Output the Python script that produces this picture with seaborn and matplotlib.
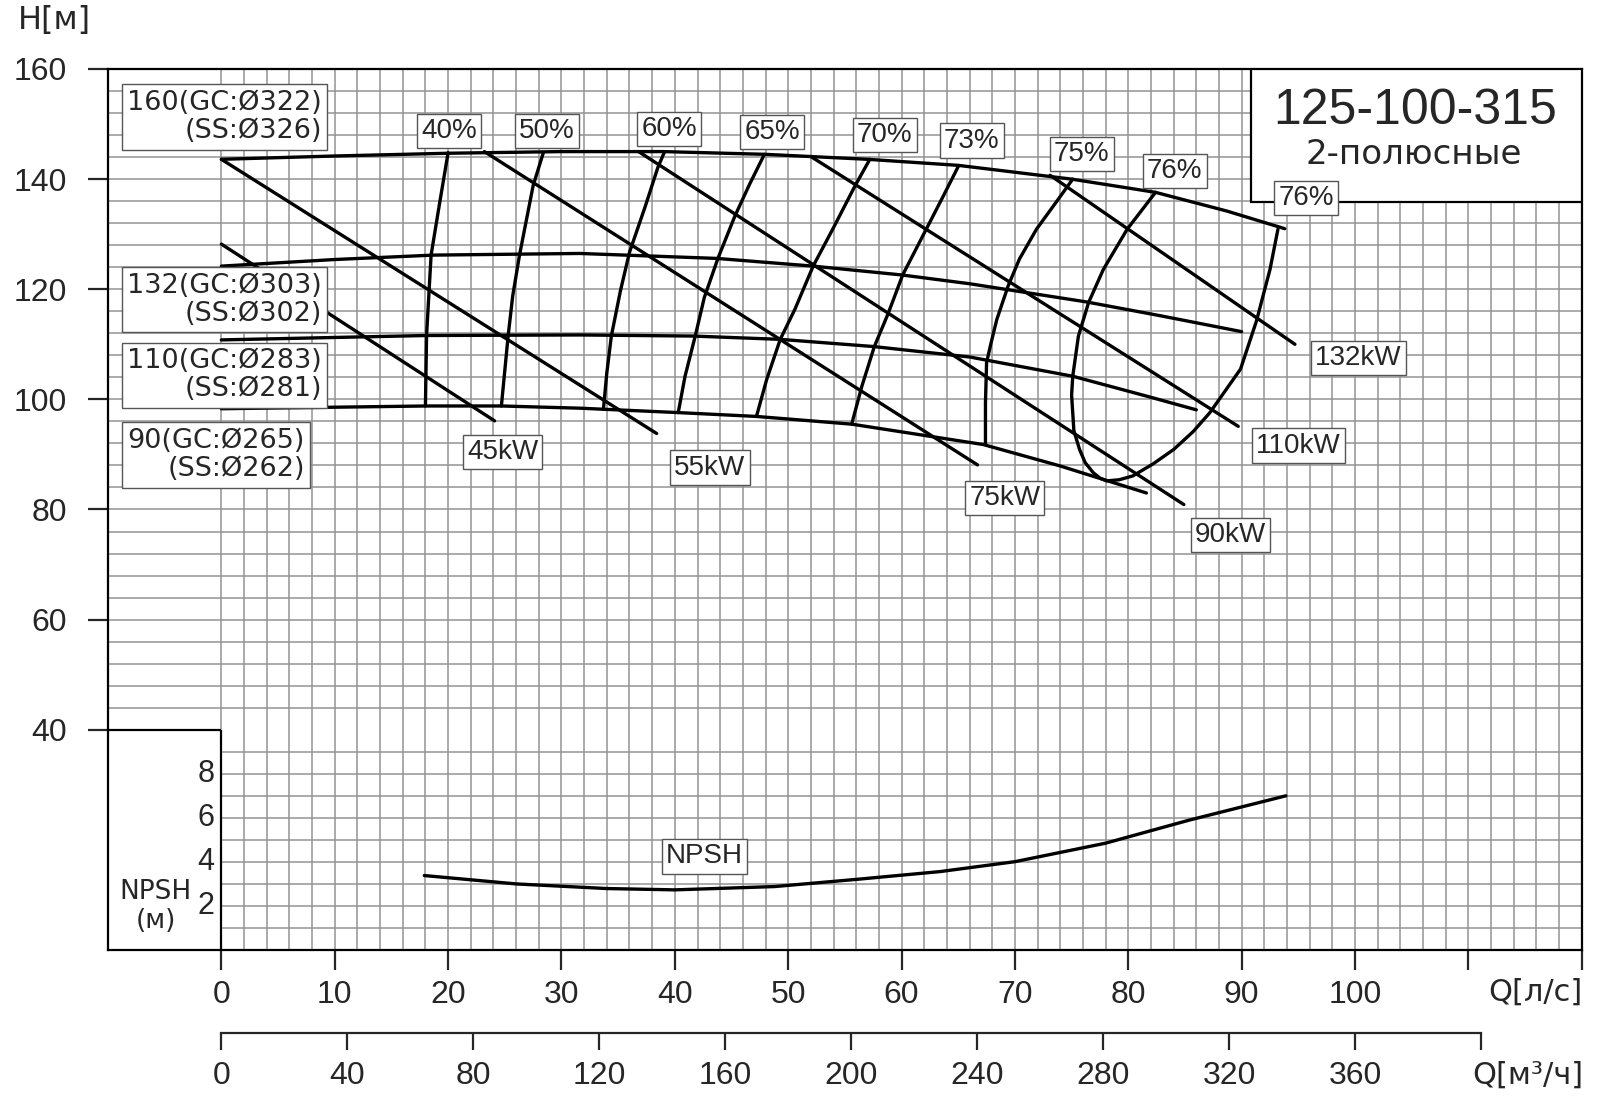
import numpy as np
import matplotlib
matplotlib.use("Agg")
import matplotlib.pyplot as plt
import seaborn as sns
from matplotlib.patches import Rectangle

# head curves, Q [l/s] -> H [m]
q_322 = [0, 10, 20, 30, 39, 48, 57, 65, 75, 82.4, 88.7, 93.8]
h_322 = [143.6, 144.2, 144.7, 145.0, 145.0, 144.5, 143.6, 142.5, 140.0, 137.6, 134.2, 131.0]
q_303 = [0, 10, 18.7, 31.6, 43.7, 52.2, 60, 66, 76.3, 82.8, 90]
h_303 = [124.2, 125.4, 126.2, 126.5, 125.6, 124.2, 122.6, 121.0, 117.7, 115.2, 112.3]
q_283 = [0, 18.1, 31.6, 41.6, 49.3, 57.5, 66, 75.1, 81.6, 86]
h_283 = [110.8, 111.6, 111.7, 111.5, 110.9, 109.6, 107.7, 104.2, 100.6, 98.1]
q_265 = [0, 18.1, 24.7, 31.6, 40.3, 47.2, 55.6, 67.2, 74, 81.6]
h_265 = [98.3, 98.8, 98.8, 98.4, 97.6, 96.9, 95.5, 91.8, 87.9, 83.0]

# efficiency curves
q_e40 = [20, 19.2, 18.5, 18.1, 18.0]
h_e40 = [144.8, 135, 126.2, 111.6, 98.8]
q_e50 = [28.4, 27.5, 26.3, 25.7, 25.3, 24.7]
h_e50 = [144.8, 138.8, 126.2, 118.8, 111.6, 98.8]
q_e60 = [39.1, 38.5, 37.4, 36, 35.2, 34.4, 34, 33.7]
h_e60 = [145, 142.1, 135.1, 126.7, 119.7, 111.5, 104.8, 98.2]
q_e65 = [47.9, 46.6, 45.3, 43.8, 42.6, 41.8, 40.9, 40.3]
h_e65 = [144.5, 139.1, 133.3, 125.6, 118.5, 111.5, 104.2, 97.6]
q_e70 = [57.2, 55.9, 54, 52.2, 50.6, 49.3, 48.1, 47.2]
h_e70 = [143.6, 138.8, 131.2, 124.2, 116.4, 110.9, 103.6, 96.9]
q_e73 = [65, 63.7, 62.1, 60.1, 58.8, 57.6, 56.5, 55.6]
h_e73 = [142.3, 137, 130.6, 122.6, 115.5, 109.6, 102.4, 95.5]
q_e75 = [75.1, 73.7, 71.9, 70.4, 69.4, 68.4, 67.9, 67.5, 67.4, 67.4]
h_e75 = [140, 136, 130.9, 125.5, 120.6, 114.5, 110.3, 106.7, 99.4, 91.8]
q_e76 = [82.4, 79.9, 77.8, 76.5, 75.6, 75.1, 75.0, 75.2, 75.7, 76.2, 76.9, 77.5, 78.1,
         79.2, 80.4, 82.2, 84, 85.7, 87.2, 89.9, 91.3, 92.5, 93.2]
h_e76 = [137.6, 130.9, 123.6, 117.6, 111.5, 104.2, 100.8, 94.3, 90.9, 88.5, 86.7, 85.7, 85.2,
         85.4, 86.1, 88.3, 90.9, 94.1, 97.6, 105.5, 114.2, 123.6, 130.9]

# motor power lines
kw_names = ["45kW", "55kW", "75kW", "90kW", "110kW", "132kW"]
kw_q0 = [0, 0, 23.2, 36.8, 52, 73.1]
kw_h0 = [128.2, 143.6, 145, 145, 144.1, 140.7]
kw_q1 = [24.1, 38.4, 66.7, 84.9, 89.7, 94.7]
kw_h1 = [96.1, 93.8, 88.1, 80.9, 95.1, 110]
kw_lab_q = [24.8, 43.1, 69.1, 89, 95, 100.3]
kw_lab_h = [90.4, 87.6, 82.1, 75.4, 91.6, 107.5]

pct_names = ["40%", "50%", "60%", "65%", "70%", "73%", "75%", "76%", "76%"]
pct_q = [20.1, 28.7, 39.5, 48.6, 58.5, 66.2, 75.9, 84.1, 95.7]
pct_h = [148.7, 148.8, 149.1, 148.6, 148.0, 147.0, 144.6, 141.5, 136.6]

dia_names = ["160(GC:Ø322)\n(SS:Ø326)", "132(GC:Ø303)\n(SS:Ø302)",
             "110(GC:Ø283)\n(SS:Ø281)", "90(GC:Ø265)\n(SS:Ø262)"]
dia_h = [151.3, 118.1, 104.4, 89.9]

# NPSH [m]
q_npsh = [17.9, 26, 34, 40, 48.8, 56.1, 63.4, 70, 78, 85.4, 93.9]
v_npsh = [3.38, 3.0, 2.79, 2.73, 2.88, 3.21, 3.56, 4.01, 4.85, 5.9, 7.0]
npsh_ticks = [2, 4, 6, 8]
npsh_scale = 4  # 1 m NPSH = 4 m of the head scale

sns.set_style("ticks")
plt.rcParams["font.family"] = ["Liberation Sans", "DejaVu Sans"]

fig = plt.figure(figsize=(16, 11.04), dpi=100)
ax = fig.add_axes([0.0675, 0.1395, 0.9211, 0.798])
ax.set_xlim(-10, 120)
ax.set_ylim(0, 160)

gc = "#939393"
ax.vlines(np.arange(0, 121, 2), 0, 160, color=gc, lw=1.1, zorder=0.5)
ax.hlines(np.arange(44, 161, 4), -10, 120, color=gc, lw=1.1, zorder=0.5)
ax.hlines(np.arange(4, 40, 4), 0, 120, color=gc, lw=1.1, zorder=0.5)
ax.hlines(40, -10, 0, color="black", lw=1.6, zorder=3)
ax.vlines(0, 0, 40, color="black", lw=1.6, zorder=3)

lw = 2.4
curves = [(q_322, h_322), (q_303, h_303), (q_283, h_283), (q_265, h_265),
          (q_e40, h_e40), (q_e50, h_e50), (q_e60, h_e60), (q_e65, h_e65),
          (q_e70, h_e70), (q_e73, h_e73), (q_e75, h_e75), (q_e76, h_e76)]
for qq, hh in curves:
    sns.lineplot(x=qq, y=hh, ax=ax, color="black", linewidth=lw, sort=False,
                 estimator=None, legend=False, zorder=2)

for i in range(len(kw_names)):
    sns.lineplot(x=[kw_q0[i], kw_q1[i]], y=[kw_h0[i], kw_h1[i]], ax=ax, color="black",
                 linewidth=lw, sort=False, estimator=None, legend=False, zorder=2)

sns.lineplot(x=q_npsh, y=[v * npsh_scale for v in v_npsh], ax=ax, color="black",
             linewidth=lw, sort=False, estimator=None, legend=False, zorder=2)

box = dict(boxstyle="square,pad=0.15", fc="white", ec="#555555", lw=1)
for name, qx, hy in zip(pct_names, pct_q, pct_h):
    ax.text(qx, hy, name, ha="center", va="center", fontsize=20, bbox=box, zorder=5)
for name, qx, hy in zip(kw_names, kw_lab_q, kw_lab_h):
    ax.text(qx, hy, name, ha="center", va="center", fontsize=20, bbox=box, zorder=5)
ax.text(42.6, 17.0, "NPSH", ha="center", va="center", fontsize=20, bbox=box, zorder=5)

dbox = dict(boxstyle="square,pad=0.2", fc="white", ec="#555555", lw=1)
for name, hy in zip(dia_names, dia_h):
    ax.text(-8.3, hy, name, ha="left", va="center", multialignment="right",
            fontsize=19.5, family="DejaVu Sans", linespacing=1.12, bbox=dbox, zorder=5)

# title box
ax.add_patch(Rectangle((90.8, 135.9), 29.2, 24.1, fc="white", ec="black", lw=1.6, zorder=3))
ax.text(105.3, 152.4, "125-100-315", ha="center", va="center", fontsize=36, zorder=4)
ax.text(105.2, 144.5, "2-полюсные", ha="center", va="center", fontsize=24.5,
        family="DejaVu Sans", zorder=4)

# NPSH scale inside the lower-left box
for v in npsh_ticks:
    ax.text(-0.6, v * npsh_scale, str(v), ha="right", va="center", fontsize=22, zorder=4)
ax.text(-5.8, 7.9, "NPSH\n(м)", ha="center", va="center", fontsize=19,
        family="DejaVu Sans", linespacing=1.15, zorder=4)

for s in ax.spines.values():
    s.set_color("black")
    s.set_linewidth(1.6)

ax.set_yticks(np.arange(40, 161, 20))
ax.set_yticklabels([str(v) for v in np.arange(40, 161, 20)])
ax.tick_params(axis="y", length=14.4, width=1.6, pad=15, labelsize=23, left=True)
xt = np.arange(0, 121, 10)
ax.set_xticks(xt)
ax.set_xticklabels([str(v) if v <= 100 else "" for v in xt])
ax.tick_params(axis="x", length=14.4, width=1.6, pad=7, labelsize=23, bottom=True)
ax.set_xlabel("")
ax.set_ylabel("")

sec = ax.secondary_xaxis(-0.0942, functions=(lambda q: q * 3.6, lambda m: m / 3.6))
mt = np.arange(0, 401, 40)
sec.set_xticks(mt)
sec.set_xticklabels([str(v) if v <= 360 else "" for v in mt])
sec.spines["bottom"].set_bounds(0, 400)
sec.spines["bottom"].set_linewidth(1.6)
sec.tick_params(axis="x", length=12, width=1.6, pad=8, labelsize=23)

ax.text(120.1, -7.6, "Q[л/с]", ha="right", va="center", fontsize=22,
        family="DejaVu Sans", clip_on=False)
ax.text(120.1, -22.7, "Q[м³/ч]", ha="right", va="center", fontsize=22,
        family="DejaVu Sans", clip_on=False)
fig.text(18 / 1600, 1 - 20 / 1104, "H[м]", ha="left", va="center", fontsize=23,
         family="DejaVu Sans")

fig.savefig("out.png", dpi=100)
